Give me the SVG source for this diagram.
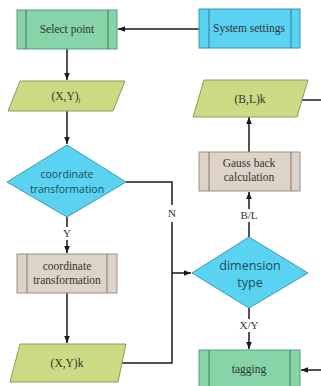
<svg xmlns="http://www.w3.org/2000/svg" width="321" height="386" viewBox="0 0 321 386">
<defs>
<marker id="ah" viewBox="0 0 10 10" refX="10" refY="5" markerWidth="7" markerHeight="7" orient="auto" markerUnits="userSpaceOnUse">
<path d="M0,1 L10,5 L0,9 Z" fill="#1a1a1a"/>
</marker>
<style>
.green{fill:#86d4a8;stroke:#5a9a7c;stroke-width:1}
.blue{fill:#5ad3f2;stroke:#3d93b0;stroke-width:1}
.tan{fill:#ddd4c7;stroke:#9a9088;stroke-width:1}
.yel{fill:#cadb84;stroke:#8e9a5c;stroke-width:1}
.dia{fill:#5ad3f2;stroke:#3d9ab5;stroke-width:1}
.bar{stroke-width:1;fill:none}
.st{font-family:"Liberation Serif",serif;font-size:11.5px;fill:#333;text-anchor:middle}
.ss{font-family:"Open Sans","Noto Sans",sans-serif;fill:#1f4a5a;text-anchor:middle}
.lbl{font-family:"Liberation Serif",serif;font-size:11px;fill:#333;text-anchor:middle}
.ln{stroke:#1a1a1a;stroke-width:1.5;fill:none}
</style>
</defs>
<rect width="321" height="386" fill="#ffffff"/>
<g id="connectors">
<line class="ln" x1="199" y1="29" x2="118" y2="29" marker-end="url(#ah)"/>
<line class="ln" x1="67" y1="49" x2="67" y2="80" marker-end="url(#ah)"/>
<line class="ln" x1="67" y1="111" x2="67" y2="144" marker-end="url(#ah)"/>
<polyline class="ln" points="126,182 172,182 172,205"/>
<line class="ln" x1="67" y1="217" x2="67" y2="227"/>
<line class="ln" x1="67" y1="240" x2="67" y2="253" marker-end="url(#ah)"/>
<line class="ln" x1="67" y1="293" x2="67" y2="343" marker-end="url(#ah)"/>
<polyline class="ln" points="122,363 172,363 172,222"/>
<line class="ln" x1="172" y1="273" x2="191" y2="273" marker-end="url(#ah)"/>
<line class="ln" x1="249" y1="237" x2="249" y2="222"/>
<line class="ln" x1="249" y1="209" x2="249" y2="192" marker-end="url(#ah)"/>
<line class="ln" x1="249" y1="152" x2="249" y2="117" marker-end="url(#ah)"/>
<line class="ln" x1="302" y1="100" x2="321" y2="100"/>
<line class="ln" x1="249" y1="308" x2="249" y2="319"/>
<line class="ln" x1="249" y1="332" x2="249" y2="349" marker-end="url(#ah)"/>
<line class="ln" x1="321" y1="370" x2="301" y2="370" marker-end="url(#ah)"/>
<text class="lbl" x="172" y="217">N</text>
<text class="lbl" x="67" y="237">Y</text>
<text class="lbl" x="249" y="219">B/L</text>
<text class="lbl" x="249" y="329">X/Y</text>
</g>
<g id="select-point">
<rect class="green" x="17" y="10" width="100" height="39"/>
<line class="bar" stroke="#3e7a5c" x1="26" y1="10" x2="26" y2="49"/>
<line class="bar" stroke="#3e7a5c" x1="108" y1="10" x2="108" y2="49"/>
<text class="st" x="67" y="33">Select point</text>
</g>
<g id="system-settings">
<rect class="blue" x="199" y="9" width="101" height="39"/>
<line class="bar" stroke="#2f7d96" x1="209" y1="9" x2="209" y2="48"/>
<line class="bar" stroke="#2f7d96" x1="291" y1="9" x2="291" y2="48"/>
<text class="st" x="249" y="32">System settings</text>
</g>
<g id="xy-j">
<polygon class="yel" points="20,81 125,81 113,111 8,111"/>
<text class="st" x="66" y="100">(X,Y)<tspan font-size="7" dy="2">j</tspan></text>
</g>
<g id="coord-decision">
<polygon class="dia" points="67,145 126,182 67,217 7,182"/>
<text class="ss" font-size="10.5" x="67" y="178">coordinate</text>
<text class="ss" font-size="10.5" x="67" y="193">transformation</text>
</g>
<g id="coord-transform">
<rect class="tan" x="17" y="254" width="100" height="39"/>
<line class="bar" stroke="#7d746c" x1="27" y1="254" x2="27" y2="293"/>
<line class="bar" stroke="#7d746c" x1="107" y1="254" x2="107" y2="293"/>
<text class="st" x="67" y="270">coordinate</text>
<text class="st" x="67" y="284">transformation</text>
</g>
<g id="xy-k">
<polygon class="yel" points="20,344 126,344 118,382 10,382"/>
<text class="st" x="67" y="367">(X,Y)k</text>
</g>
<g id="bl-k">
<polygon class="yel" points="204,80 308,80 297,117 193,117"/>
<text class="st" x="250" y="103">(B,L)k</text>
</g>
<g id="gauss">
<rect class="tan" x="199" y="152" width="101" height="39"/>
<line class="bar" stroke="#7d746c" x1="209" y1="152" x2="209" y2="191"/>
<line class="bar" stroke="#7d746c" x1="291" y1="152" x2="291" y2="191"/>
<text class="st" x="249" y="167">Gauss back</text>
<text class="st" x="249" y="181">calculation</text>
</g>
<g id="dimension-type">
<polygon class="dia" points="249,237 308,273 249,308 192,273"/>
<text class="ss" font-size="12.5" x="250" y="270">dimension</text>
<text class="ss" font-size="12.5" x="250" y="287">type</text>
</g>
<g id="tagging">
<rect class="green" x="199" y="350" width="101" height="40"/>
<line class="bar" stroke="#3e7a5c" x1="209" y1="350" x2="209" y2="390"/>
<line class="bar" stroke="#3e7a5c" x1="290" y1="350" x2="290" y2="390"/>
<text class="st" x="249" y="373">tagging</text>
</g>
</svg>
